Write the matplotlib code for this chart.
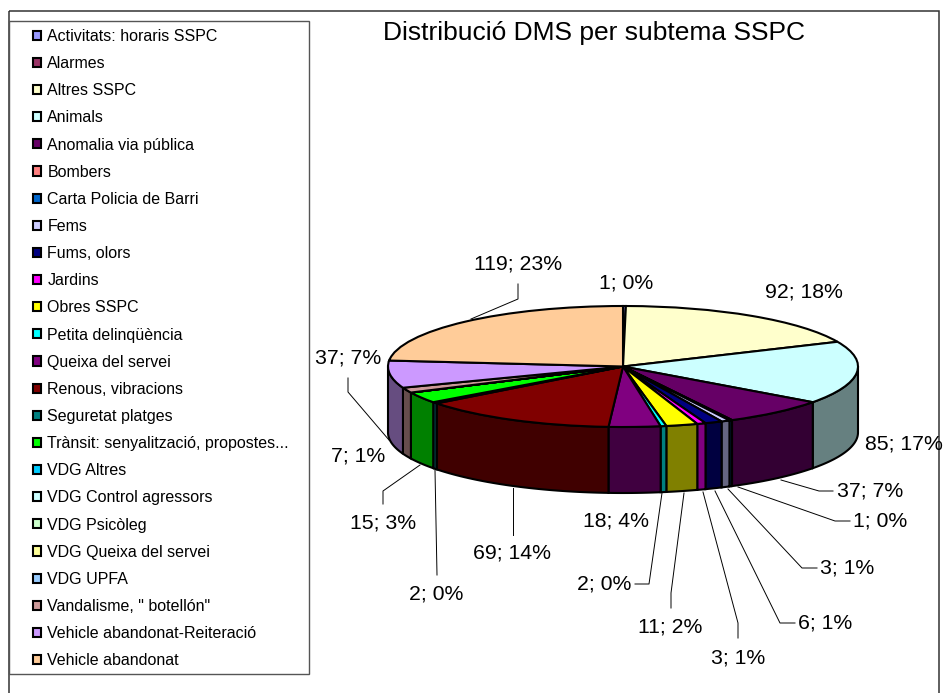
import numpy as np
import matplotlib
matplotlib.use("Agg")
import matplotlib.pyplot as plt
from matplotlib.colors import to_rgb
from matplotlib.patches import Rectangle

plt.rcParams["font.family"] = ["Liberation Sans", "DejaVu Sans"]

categories = ["Activitats: horaris SSPC", "Alarmes", "Altres SSPC", "Animals",
              "Anomalia via pública", "Bombers", "Carta Policia de Barri", "Fems",
              "Fums, olors", "Jardins", "Obres SSPC", "Petita delinqüència",
              "Queixa del servei", "Renous, vibracions", "Seguretat platges",
              "Trànsit: senyalització, propostes...", "VDG Altres",
              "VDG Control agressors", "VDG Psicòleg", "VDG Queixa del servei",
              "VDG UPFA", 'Vandalisme, " botellón"', "Vehicle abandonat-Reiteració",
              "Vehicle abandonat"]
valors = [1, 0, 92, 85, 37, 0, 1, 3, 6, 3, 11, 2, 18, 69, 2, 15, 0, 0, 0, 0, 0, 7, 37, 119]
colors = ["#9999FF", "#993366", "#FFFFCC", "#CCFFFF", "#660066", "#FF8080", "#0066CC",
          "#CCCCFF", "#000080", "#FF00FF", "#FFFF00", "#00FFFF", "#800080", "#800000",
          "#008080", "#00FF00", "#00CCFF", "#CCFFFF", "#CCFFCC", "#FFFF99", "#99CCFF",
          "#CC9999", "#CC99FF", "#FFCC99"]

# posicio de cada etiqueta (centre, pixels) i linia guia, per categoria
etiquetes = {
    "Activitats: horaris SSPC": ((626, 283), None),
    "Altres SSPC": ((804, 292), None),
    "Animals": ((904, 444), None),
    "Anomalia via pública": ((870, 491), [(781, 480), (819, 491), (833, 491)]),
    "Carta Policia de Barri": ((880, 521), [(738, 487), (835, 521), (850, 521)]),
    "Fems": ((847, 568), [(728, 489), (802, 568), (817, 568)]),
    "Fums, olors": ((825, 623), [(715, 491), (780, 623), (795, 623)]),
    "Jardins": ((738, 658), [(703, 492), (738, 623), (738, 638)]),
    "Obres SSPC": ((670, 627), [(684, 493), (671, 593), (671, 608)]),
    "Petita delinqüència": ((604, 584), [(662, 493), (649, 584), (635, 584)]),
    "Queixa del servei": ((616, 521), None),
    "Renous, vibracions": ((512, 553), [(513, 488), (513, 535)]),
    "Seguretat platges": ((436, 594), [(435, 470), (437, 575)]),
    "Trànsit: senyalització, propostes...": ((383, 523), [(420, 465), (383, 491), (383, 504)]),
    "Vandalisme, \" botellón\"": ((358, 456), [(389, 440), (348, 392), (348, 378)]),
    "Vehicle abandonat-Reiteració": ((348, 358), None),
    "Vehicle abandonat": ((518, 264), [(471, 319), (518, 299), (518, 284)]),
}

W, H = 947, 693
cx, cy, ra, rb, fons = 623, 366.5, 235, 60.5, 66

fig = plt.figure(figsize=(W / 100, H / 100), dpi=100)
ax = fig.add_axes([(cx - ra) / W, (H - cy - rb) / H, 2 * ra / W, 2 * rb / H])

wedges, _ = ax.pie(valors, colors=colors, startangle=90, counterclock=False,
                   wedgeprops=dict(edgecolor="black", linewidth=1.5))
for w in wedges:
    w.set_clip_on(False)
ax.set_aspect("auto")
ax.set_xlim(-1, 1)
ax.set_ylim(-1, 1)

# paret lateral del formatge, nomes la meitat de davant
total = sum(valors)
angles = np.concatenate([[0], np.cumsum(valors)]) / total * 360
for i, color in enumerate(colors):
    t0, t1 = max(angles[i], 90), min(angles[i + 1], 270)
    if t1 <= t0:
        continue
    t = np.radians(np.linspace(t0, t1, 40))
    x = np.sin(t)
    y = np.cos(t)
    fosc = tuple(c * 0.5 for c in to_rgb(color))
    ax.fill(np.r_[x, x[::-1]], np.r_[y, y[::-1] - fons / rb], facecolor=fosc,
            edgecolor="black", linewidth=1.5, clip_on=False, zorder=0.5)

over = fig.add_axes([0, 0, 1, 1], zorder=5)
over.set_xlim(0, W)
over.set_ylim(H, 0)
over.axis("off")

over.add_patch(Rectangle((9, 11), 930, 690, fill=False, edgecolor="#333333", linewidth=1.1, clip_on=False))
over.add_patch(Rectangle((9, 21), 299.5, 653, facecolor="white", edgecolor="#555555", linewidth=1.0))

over.text(594, 33, "Distribució DMS per subtema SSPC", fontsize=19, ha="center", va="center")

leg = over.legend(wedges, categories, loc="upper left", bbox_to_anchor=(33, 29),
                  bbox_transform=over.transData, borderaxespad=0, borderpad=0,
                  frameon=False, fontsize=11.5, labelspacing=0.76,
                  handlelength=0.5, handleheight=0.5, handletextpad=0.4)

for nom, v in zip(categories, valors):
    if nom not in etiquetes:
        continue
    (tx, ty), guia = etiquetes[nom]
    over.text(tx, ty, f"{v}; {v / total * 100:.0f}%", fontsize=15.3, ha="center", va="center")
    if guia:
        over.plot(*zip(*guia), color="black", lw=0.7)

fig.savefig("out.png", dpi=100)
